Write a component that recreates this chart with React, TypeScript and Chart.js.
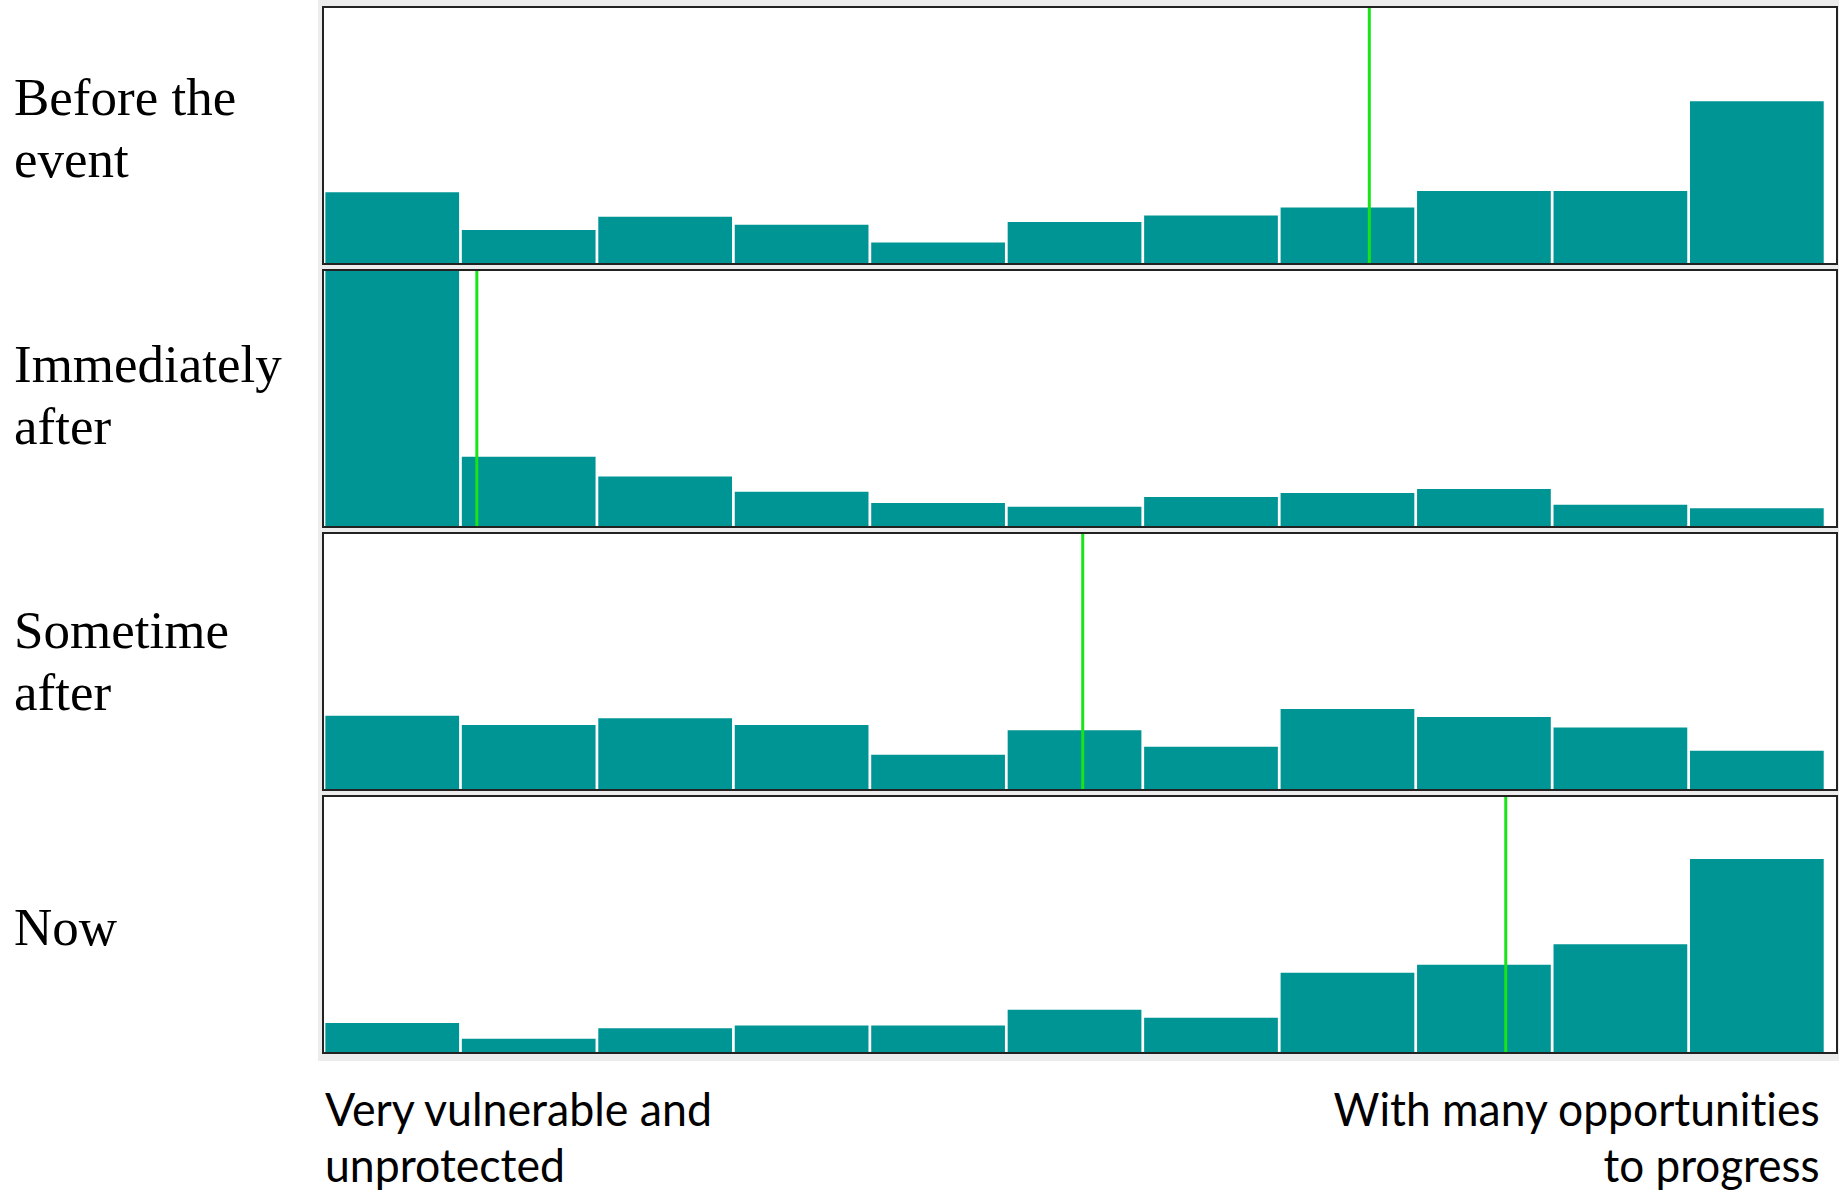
import React, { useEffect, useLayoutEffect, useRef } from "react";
import { Chart, registerables } from "chart.js";

Chart.register(...registerables);

// ---- Data (percent of respondents per position on the 0–11 scale) ----
const BIN_CENTERS = [0.5, 1.5, 2.5, 3.5, 4.5, 5.5, 6.5, 7.5, 8.5, 9.5, 10.5];
const beforeEvent = [10.7, 5.0, 7.0, 5.8, 3.1, 6.2, 7.2, 8.4, 10.9, 10.9, 24.5];
const immediatelyAfter = [49.7, 10.5, 7.5, 5.2, 3.5, 2.9, 4.4, 5.0, 5.6, 3.2, 2.7];
const sometimeAfter = [11.1, 9.7, 10.7, 9.7, 5.2, 8.9, 6.4, 12.1, 10.9, 9.3, 5.8];
const nowValues = [4.4, 2.0, 3.6, 4.0, 4.0, 6.4, 5.2, 12.0, 13.2, 16.3, 29.2];
// position of the green marker (median) on the same scale
const medians = [7.66, 1.12, 5.56, 8.66];
const panelLabels = [["Before the", "event"], ["Immediately", "after"], ["Sometime", "after"], ["Now"]];
const leftAxisLabel = ["Very vulnerable and", "unprotected"];
const rightAxisLabel = ["With many opportunities", "to progress"];

const Y_MAX = 38.6;
const X_MAX = 11.08;

const BAR_COLOR = "#009595";
const MEDIAN_COLOR = "#18e418";

const SERIES = [beforeEvent, immediatelyAfter, sometimeAfter, nowValues];

function Panel({ values, median, top }: { values: number[]; median: number; top: number }) {
  const ref = useRef<HTMLCanvasElement>(null);
  useEffect(() => {
    const chart = new Chart(ref.current as HTMLCanvasElement, {
      type: "bar",
      data: {
        datasets: [
          {
            type: "line",
            data: [
              { x: median, y: 0 },
              { x: median, y: Y_MAX },
            ],
            borderColor: MEDIAN_COLOR,
            borderWidth: 3,
            pointRadius: 0,
            order: 1,
          } as any,
          {
            type: "bar",
            data: BIN_CENTERS.map((x, i) => ({ x, y: values[i] })),
            backgroundColor: BAR_COLOR,
            borderWidth: 0,
            barPercentage: 0.98,
            categoryPercentage: 1,
            order: 2,
          } as any,
        ],
      },
      options: {
        animation: false,
        responsive: true,
        maintainAspectRatio: false,
        layout: { padding: 0 },
        plugins: { legend: { display: false }, tooltip: { enabled: false }, title: { display: false } },
        scales: {
          x: { type: "linear", min: 0, max: X_MAX, offset: false, display: false },
          y: { type: "linear", min: 0, max: Y_MAX, display: false },
        },
      },
    });
    return () => chart.destroy();
  }, [values, median]);
  return (
    <div
      style={{
        position: "absolute",
        left: 322,
        top,
        width: 1516,
        height: 259,
        border: "2px solid #222",
        boxSizing: "border-box",
        background: "#fff",
      }}
    >
      <div style={{ position: "relative", width: "100%", height: "100%" }}>
        <canvas ref={ref} />
      </div>
    </div>
  );
}

function FitLine({ text, width, align, top, side }: { text: string; width: number; align: "left" | "right"; top: number; side: number }) {
  const ref = useRef<HTMLSpanElement>(null);
  useLayoutEffect(() => {
    const fit = () => {
      const el = ref.current;
      if (!el) return;
      el.style.transform = "none";
      const w = el.getBoundingClientRect().width;
      if (w > 0) el.style.transform = `scaleX(${width / w})`;
    };
    fit();
    (document as any).fonts?.ready?.then(fit);
  }, [text, width]);
  const pos: React.CSSProperties = align === "left" ? { left: side } : { right: side };
  return (
    <div style={{ position: "absolute", top, ...pos, whiteSpace: "nowrap" }}>
      <span
        ref={ref}
        style={{
          display: "inline-block",
          fontFamily: "Lato, 'Open Sans', sans-serif",
          fontSize: 47,
          lineHeight: "56px",
          color: "#000",
          fontVariantLigatures: "none",
          transformOrigin: align === "left" ? "left center" : "right center",
        }}
      >
        {text}
      </span>
    </div>
  );
}

export default function App() {
  const PERIOD = 263;
  const FIRST_TOP = 6;
  const labelTops = [66, 333, 599, 896];
  return (
    <div style={{ position: "absolute", left: 0, top: 0, width: 1839, height: 1190, background: "#fff", overflow: "hidden" }}>
      <div style={{ position: "absolute", left: 318, top: 0, width: 1521, height: 1061, background: "#ececec" }} />
      {SERIES.map((vals, i) => (
        <Panel key={i} values={vals} median={medians[i]} top={FIRST_TOP + i * PERIOD} />
      ))}
      {panelLabels.map((lines, i) => (
        <div
          key={i}
          style={{
            position: "absolute",
            left: 14,
            top: labelTops[i],
            fontFamily: "'Liberation Serif', 'Times New Roman', serif",
            fontSize: 53,
            lineHeight: "62px",
            color: "#000",
            whiteSpace: "nowrap",
          }}
        >
          {lines.map((l, j) => (
            <div key={j}>{l}</div>
          ))}
        </div>
      ))}
      <FitLine text={leftAxisLabel[0]} width={387} align="left" top={1080} side={325} />
      <FitLine text={leftAxisLabel[1]} width={240} align="left" top={1136} side={325} />
      <FitLine text={rightAxisLabel[0]} width={486} align="right" top={1080} side={19} />
      <FitLine text={rightAxisLabel[1]} width={216} align="right" top={1136} side={19} />
    </div>
  );
}
